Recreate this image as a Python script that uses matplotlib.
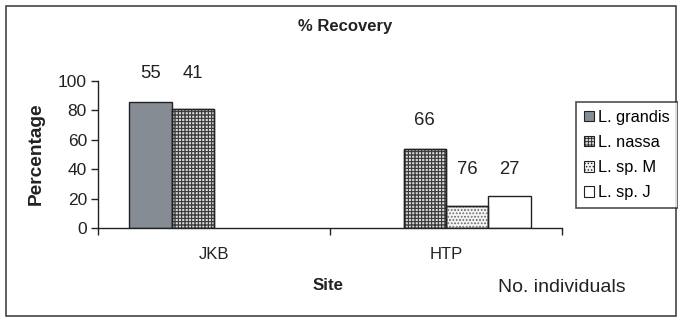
import numpy as np
import matplotlib.pyplot as plt
from matplotlib.patches import Rectangle

plt.rcParams['font.family'] = ['Liberation Sans', 'DejaVu Sans']
plt.rcParams['hatch.linewidth'] = 0.6

# dados
sites = ['JKB', 'HTP']
species = ['L. grandis', 'L. nassa', 'L. sp. M', 'L. sp. J']
recovery = {
    'L. grandis': [86, 0],
    'L. nassa': [81, 54],
    'L. sp. M': [0, 15],
    'L. sp. J': [0, 22],
}
n_individuals = {
    'L. grandis': ['55', ''],
    'L. nassa': ['41', '66'],
    'L. sp. M': ['', '76'],
    'L. sp. J': ['', '27'],
}

# estilo de cada série
faces = ['#858c93', '#d8d8d8', '#f2f2f2', 'white']
hatches = [None, '+++++', '.....', None]
hatch_cols = ['#3a3a3a', '#3a3a3a', '#8a8a8a', '#3a3a3a']
label_y = {
    'L. grandis': [105, 0],
    'L. nassa': [105, 73],
    'L. sp. M': [0, 39.5],
    'L. sp. J': [0, 39.5],
}

fig = plt.figure(figsize=(6.78, 3.18), dpi=100)
ax = fig.add_axes([98 / 678, 1 - 228 / 318, 464 / 678, 147 / 318])

x = np.arange(len(sites))
w = 0.183
for i, sp in enumerate(species):
    pos = x + (i - 1.5) * w
    vals = recovery[sp]
    for j in range(len(sites)):
        if vals[j] <= 0:
            continue
        ax.bar(pos[j], vals[j], w, color=faces[i], edgecolor='#222222',
               linewidth=1.0, hatch=hatches[i], zorder=2)
        if hatches[i]:
            # cor da hachura separada da borda
            ax.bar(pos[j], vals[j], w, color='none', edgecolor=hatch_cols[i],
                   linewidth=0, hatch=hatches[i], zorder=2)
            ax.bar(pos[j], vals[j], w, color='none', edgecolor='#222222',
                   linewidth=1.0, zorder=3)
        lab = n_individuals[sp][j]
        if lab:
            ax.text(pos[j], label_y[sp][j], lab, ha='center', va='center',
                    fontsize=13.3, color='#222222', clip_on=False)

ax.set_xlim(-0.5, 1.5)
ax.set_ylim(0, 100)
ax.set_yticks([0, 20, 40, 60, 80, 100])
ax.tick_params(axis='y', labelsize=12.5, length=5, width=1, direction='out',
               colors='#222222', pad=3)
ax.set_xticks([-0.5, 0.5, 1.5])
ax.set_xticklabels([])
ax.tick_params(axis='x', length=5, width=1, direction='out', colors='#222222')
ax.set_xticks(x, minor=True)
ax.set_xticklabels(sites, minor=True)
ax.tick_params(axis='x', which='minor', length=0, labelsize=12, pad=14,
               colors='#222222')
for s in ['top', 'right']:
    ax.spines[s].set_visible(False)
for s in ['left', 'bottom']:
    ax.spines[s].set_color('#222222')
    ax.spines[s].set_linewidth(1.0)

# textos
fig.text(345 / 678, 1 - 26 / 318, '% Recovery', ha='center', va='center',
         fontsize=12, fontweight='bold', color='#222222')
fig.text(36 / 678, 1 - 154 / 318, 'Percentage', ha='center', va='center',
         rotation=90, fontsize=13.8, fontweight='bold', color='#222222')
fig.text(328 / 678, 1 - 285 / 318, 'Site', ha='center', va='center',
         fontsize=12.2, fontweight='bold', color='#222222')
fig.text(562 / 678, 1 - 287 / 318, 'No. individuals', ha='center',
         va='center', fontsize=14, color='#222222')

# legenda
handles = []
for i, sp in enumerate(species):
    handles.append(plt.Rectangle((0, 0), 1, 1, facecolor=faces[i],
                                 edgecolor='#222222', hatch=hatches[i],
                                 linewidth=0.8))
leg = fig.legend(handles, species, loc='center', bbox_to_anchor=(627 / 678, 1 - 155 / 318),
                 fontsize=11.8, frameon=True, fancybox=False, handlelength=0.6,
                 handleheight=0.6, handletextpad=0.3, labelspacing=0.62,
                 borderpad=0.45, borderaxespad=0, edgecolor='#222222')
leg.get_frame().set_linewidth(1.2)

# moldura da figura
fig.patches.append(Rectangle((6 / 678, 2 / 318), 670 / 678, 310 / 318,
                             transform=fig.transFigure, fill=False,
                             edgecolor='#444444', linewidth=1.2))

fig.savefig('out.png', dpi=100)
